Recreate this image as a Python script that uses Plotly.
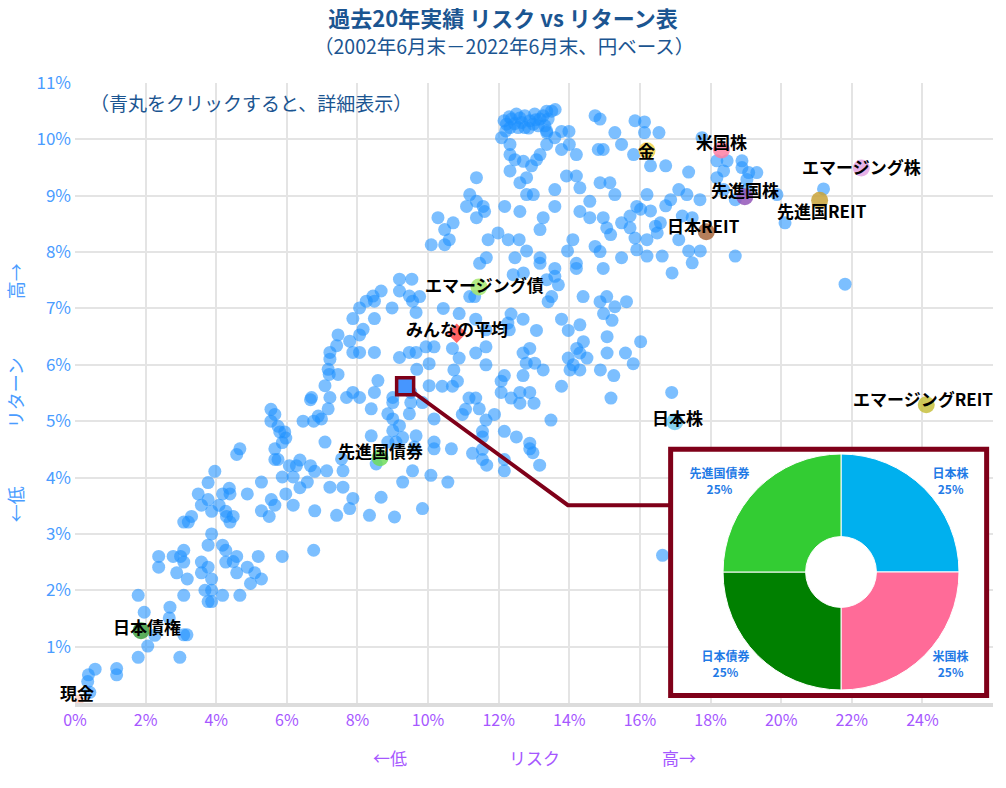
import plotly.graph_objects as go

# ---------------- data (risk %, return %) ----------------
fund_points = [
    (0.42,0.19),(0.38,0.50),(0.36,0.38),(0.57,0.60),(1.18,0.61),(1.18,0.50),(1.79,0.81),(1.79,1.91),(1.96,1.61),
    (2.06,1.01),(2.26,1.20),(2.69,1.70),(2.67,1.51),(2.97,0.81),(3.08,1.21),(3.17,1.21),(3.08,1.91),
    (2.37,2.60),(2.37,2.41),(2.78,2.60),(2.99,2.60),(3.08,2.71),(3.08,2.50),(2.88,2.31),(3.18,2.20),(3.58,2.50),
    (3.77,2.41),(3.58,2.31),(3.87,2.20),(3.68,2.00),(3.87,2.00),(3.77,1.80),(3.87,1.80),(4.18,1.91),(4.67,1.91),
    (3.87,3.00),(3.77,2.80),(4.18,2.80),(4.27,2.71),(4.27,2.50),(4.48,2.51),(4.58,2.60),(4.58,2.31),(4.88,2.41),
    (5.09,2.31),(4.97,2.12),(5.28,2.20),(5.19,2.60),(5.87,2.60),(6.76,2.71),
    (3.08,3.21),(3.21,3.21),(3.30,3.31),(3.49,3.71),(3.58,3.51),(3.77,3.61),(3.77,3.91),(3.87,3.40),(3.96,4.11),
    (4.08,3.51),(4.18,3.71),(4.27,3.40),(4.37,3.81),(4.39,3.71),(4.29,3.31),(4.48,3.31),(4.39,3.21),(4.58,4.41),
    (4.67,4.51),(4.88,3.71),(5.28,3.92),(5.28,3.41),(5.50,3.31),(5.56,3.61),(5.66,3.51),(5.87,4.01),(5.97,3.71),
    (6.18,3.51),(6.18,4.01),(6.37,3.82),(6.58,3.92),(6.79,3.41),(6.79,4.11),
    (5.66,4.51),(5.75,4.32),(5.66,4.32),(5.87,4.62),(5.97,4.70),(5.94,4.81),(5.80,4.81),(6.07,4.21),(6.27,4.21),
    (6.37,4.31),(6.67,4.21),(5.55,5.21),(5.66,5.12),(5.55,5.00),(5.75,4.91),(6.46,5.00),(6.76,5.00),(6.89,5.09),
    (6.67,5.38),
    (9.19,7.52),(9.54,7.52),(9.19,7.31),(8.67,7.31),(8.44,7.22),(8.48,7.13),(8.25,7.13),(8.06,7.01),(9.47,7.22),
    (9.56,7.13),(8.98,7.01),(9.66,6.93),
    (7.87,6.82),(8.48,6.82),(8.16,6.63),(8.06,6.53),(7.45,6.53),(7.78,6.42),(7.41,6.34),(7.22,6.22),(7.22,6.10),
    (7.87,6.22),(8.06,6.22),(8.48,6.22),(9.19,6.13),(9.47,6.22),(9.66,6.22),(9.94,6.32),(10.17,6.32),(10.03,6.02),
    (9.68,5.92),(10.03,5.63),
    (7.17,5.92),(7.20,5.83),(7.45,5.83),(7.08,5.63),(6.70,5.42),(7.22,5.42),(7.69,5.42),(7.87,5.51),(8.06,5.42),
    (8.48,5.51),(8.58,5.72),(9.00,5.42),(9.00,5.33),(9.51,5.51),(9.51,5.33),(9.84,5.33),(7.17,5.22),(6.98,5.04),
    (8.39,5.22),(8.86,5.13),(9.00,5.04),(9.47,5.13),(10.17,5.04),
    (7.13,4.12),(7.22,3.83),(7.59,3.83),(7.41,3.33),(7.78,3.45),(7.87,3.63),(7.08,4.63),(7.55,4.33),(7.59,4.12),
    (8.39,4.74),(8.53,4.24),(8.67,3.65),(8.34,3.33),(8.86,4.63),(9.09,4.63),(9.00,4.83),(9.19,4.92),(9.28,4.71),
    (9.66,4.74),(9.61,4.54),(9.56,4.12),(9.28,3.92),(10.08,4.04),(10.17,4.63),(10.17,4.51),(9.84,3.45),(9.05,3.30),
    (12.22,10.27),(12.36,10.36),(12.50,10.45),(12.65,10.30),(12.74,10.42),(12.88,10.33),(13.02,10.45),(13.17,10.36),
    (13.36,10.50),(13.50,10.50),(13.60,10.53),(13.26,10.42),(13.40,10.36),(12.32,10.21),(12.55,10.21),(12.74,10.21),
    (12.98,10.27),(13.12,10.24),(13.31,10.24),(13.36,10.15),(12.08,10.03),(12.32,9.91),(12.32,9.73),(12.46,9.64),
    (12.70,9.61),(12.93,9.53),(13.07,9.64),(13.17,9.73),(12.32,9.44),(12.60,9.23),(12.79,9.32),(12.79,9.02),
    (12.98,9.02),(12.20,10.15),(12.45,10.28),(12.60,10.38),(12.85,10.20),(13.05,10.35),(12.30,10.40),(12.15,10.33),
    (13.36,9.91),(13.36,10.12),(13.59,10.03),(13.78,10.14),(13.99,10.14),(14.00,9.91),(13.78,9.82),(14.20,9.73),
    (14.73,10.42),(14.87,10.36),(15.29,10.12),(15.48,9.91),(14.82,9.82),(14.96,9.82),(15.86,10.33),(15.82,9.73),
    (11.37,9.32),(11.18,9.02),(11.37,8.90),(11.09,8.81),(11.56,8.81),(11.60,8.72),(11.37,8.61),(10.28,8.61),
    (10.71,8.52),(10.47,8.40),(10.60,8.22),(10.47,8.13),(10.09,8.13),
    (12.17,8.81),(12.60,8.72),(11.98,8.34),(11.70,8.22),(12.27,8.22),(12.58,8.22),(12.79,8.02),(13.26,8.61),
    (13.17,8.40),(13.59,9.11),(13.59,8.81),(13.92,9.35),(14.20,9.35),(14.30,9.14),(14.58,8.90),(14.30,8.72),
    (14.10,8.22),(13.95,8.02),(14.58,8.61),(14.87,9.23),(15.15,9.23),(15.29,9.02),(14.96,8.61),(15.06,8.43),
    (15.17,8.31),(14.73,8.10),(14.87,8.01),(15.48,8.52),(15.72,8.64),(15.91,8.81),(15.72,8.43),(15.86,8.25),
    (15.91,8.04),(15.48,7.90),
    (11.65,7.90),(11.46,7.80),(12.46,7.90),(13.17,7.90),(13.17,7.80),(13.59,7.71),(13.59,7.57),(13.36,7.51),
    (13.69,7.42),(14.20,7.80),(14.20,7.71),(14.96,7.71),(14.39,7.21),(15.06,7.21),(14.87,7.12),(15.29,7.03),
    (15.62,7.12),(13.50,7.21),(13.40,7.12),(12.41,7.60),(12.70,7.63),(11.32,7.21),(11.18,7.21),(9.76,7.21),
    (10.43,7.00),
    (16.13,10.31),(16.13,10.12),(16.54,10.12),(17.76,10.03),(16.30,9.53),(16.73,9.53),(17.38,9.42),(18.18,9.62),
    (18.47,9.62),(18.89,9.62),(18.89,9.50),(18.37,9.44),(18.18,9.32),(19.08,9.41),(19.31,9.41),(19.03,9.29),
    (17.10,9.11),(17.33,9.02),(17.70,8.93),(16.87,8.93),(16.73,8.82),(16.20,9.02),(16.02,8.76),(16.30,8.73),
    (18.37,9.11),(18.70,8.93),(19.03,9.11),(19.88,9.02),(21.20,9.12),(20.11,8.52),(17.20,8.64),(17.48,8.61),
    (16.58,8.52),(16.44,8.46),(16.49,8.34),(16.20,8.22),(17.10,8.22),(17.38,8.02),(17.71,8.02),(16.20,7.93),
    (16.63,7.93),(17.48,7.81),(16.91,7.63),(18.70,7.93),(21.81,7.43),
    (14.97,6.91),(15.21,6.79),(13.78,6.81),(13.97,6.61),(14.30,6.71),(12.69,6.81),(13.07,6.61),(12.35,6.90),
    (12.26,6.74),(12.30,6.62),(10.88,6.91),(11.35,6.81),(11.64,6.62),
    (15.07,6.50),(14.40,6.41),(14.21,6.29),(14.30,6.21),(14.50,6.12),(16.02,6.41),(15.59,6.21),(15.81,6.02),
    (15.07,6.21),(15.26,5.81),(14.88,5.91),(14.30,5.91),(13.97,6.12),(14.02,5.91),(14.11,6.00),
    (12.88,6.29),(12.69,6.21),(12.78,6.03),(13.02,6.03),(13.26,5.91),(13.78,5.62),(15.18,5.41),
    (11.64,6.32),(11.35,6.21),(11.64,6.00),(10.88,6.12),(10.69,6.29),
    (12.16,5.81),(12.07,5.71),(12.07,5.51),(12.69,5.81),(12.60,5.51),(12.88,5.51),(12.35,5.41),(12.60,5.32),
    (13.00,5.32),(10.73,5.91),(10.69,5.62),(10.83,5.71),(10.40,5.62),
    (11.16,5.41),(11.35,5.41),(11.06,5.21),(11.45,5.22),(10.97,5.12),(11.64,5.02),(11.88,5.12),(13.48,5.02),
    (12.16,4.82),(12.50,4.72),(12.88,4.61),(12.97,4.44),(13.16,4.22),(12.88,4.51),
    (11.54,4.82),(11.54,4.72),(11.54,4.50),(11.54,4.32),(11.66,4.22),(11.26,4.43),
    (12.16,4.32),(12.16,4.12),(10.66,4.51),(10.56,3.92),(16.90,5.51),(16.64,2.62),
]

asset_names  = ["現金", "日本債権", "先進国債券", "エマージング債", "金", "米国株", "先進国株",
                "日本REIT", "先進国REIT", "エマージング株", "エマージングREIT", "日本株"]
asset_risk   = [0.0, 1.87, 8.64, 11.44, 16.20, 18.31, 18.97, 17.88, 21.09, 22.27, 24.11, 16.99]
asset_return = [0.0, 1.28, 4.35, 7.38, 9.80, 9.81, 8.98, 8.36, 8.92, 9.49, 5.29, 4.99]

avg_name, avg_risk, avg_return = "みんなの平均", 10.81, 6.56
selected_risk, selected_return = 9.35, 5.62

pie_labels = ["日本株", "米国株", "日本債券", "先進国債券"]
pie_values = [25, 25, 25, 25]

x_tickvals = list(range(0, 27, 2))
x_ticktext = [f"{v}%" for v in range(0, 25, 2)] + [""]
y_tickvals = list(range(0, 12))
y_ticktext = [""] + [f"{v}%" for v in range(1, 12)]

# ---------------- styles ----------------
FONT = "Noto Sans CJK JP"
TITLE_BLUE = "#1b5591"
MAROON = "#7f0019"
asset_colors = ["rgba(255,190,170,0.7)", "#3f9f3f", "#6fdc5c", "#a6e86e", "#f2d24a", "#ff7fa3",
                "#9356b8", "#a8693e", "#c9a33a", "#e3a3e3", "#c7bf3d", "#6fcaf0"]
label_shift = {  # (xshift, yshift) in px
    "現金": (2, 11), "日本債権": (6, 4), "先進国債券": (0, 7), "エマージング債": (6, 3),
    "金": (0, 0), "米国株": (0, 9), "先進国株": (0, 7), "日本REIT": (-3, 6),
    "先進国REIT": (2, -10), "エマージング株": (0, 2), "エマージングREIT": (-3, 6), "日本株": (3, 4),
}
pie_colors = ["#00b0ee", "#ff6b98", "#008000", "#33cc33"]

fig = go.Figure()

fig.add_trace(go.Scatter(
    x=[p[0] for p in fund_points], y=[p[1] for p in fund_points],
    mode="markers", marker=dict(size=13, color="rgba(30,144,255,0.58)", line=dict(width=0)),
    hoverinfo="x+y", showlegend=False,
))

fig.add_trace(go.Scatter(
    x=asset_risk, y=asset_return, mode="markers",
    marker=dict(size=17, color=asset_colors, opacity=0.85, line=dict(width=0)),
    text=asset_names, hoverinfo="text", showlegend=False,
))
fig.add_trace(go.Scatter(
    x=[avg_risk], y=[avg_return], mode="markers",
    marker=dict(size=15, color="#ff5252", symbol="diamond", opacity=0.9),
    text=[avg_name], hoverinfo="text", showlegend=False,
))

# connector line from the selected point to the inset
fig.add_trace(go.Scatter(
    x=[selected_risk, 13.96, 16.87], y=[selected_return, 3.51, 3.51], mode="lines",
    line=dict(color=MAROON, width=4), hoverinfo="skip", showlegend=False,
))
fig.add_trace(go.Scatter(
    x=[selected_risk], y=[selected_return], mode="markers",
    marker=dict(size=17, symbol="square", color="rgba(70,150,255,1)", line=dict(color=MAROON, width=3.5)),
    hoverinfo="skip", showlegend=False,
))

for n, xv, yv in zip(asset_names + [avg_name], asset_risk + [avg_risk], asset_return + [avg_return]):
    sx, sy = label_shift.get(n, (0, 5))
    fig.add_annotation(x=xv, y=yv, text=n, showarrow=False, xshift=sx, yshift=sy,
                       font=dict(family=FONT, size=17, color="black", weight="bold"))

# inset pie
fig.add_trace(go.Pie(
    labels=pie_labels, values=pie_values, hole=0.3, sort=False, direction="clockwise", rotation=0,
    marker=dict(colors=pie_colors, line=dict(color="white", width=1)),
    textinfo="label+percent", textposition="outside",
    textfont=dict(family=FONT, size=12, color="#1f7ae6", weight="bold"),
    domain=dict(x=[0.7059, 0.963], y=[0.021, 0.4016]),
    showlegend=False, automargin=False,
))

fig.add_shape(type="rect", xref="x", yref="y", x0=16.87, x1=25.82, y0=0.133, y1=4.50,
              fillcolor="white", line=dict(width=0), layer="between")
fig.add_shape(type="rect", xref="x", yref="y", x0=16.87, x1=25.82, y0=0.133, y1=4.50,
              fillcolor="rgba(0,0,0,0)", line=dict(color=MAROON, width=5), layer="above")

fig.add_annotation(xref="paper", yref="paper", x=0.014, y=0.969, xanchor="left", yanchor="middle",
                   text="（青丸をクリックすると、詳細表示）", showarrow=False,
                   font=dict(family=FONT, size=19, color=TITLE_BLUE))
fig.add_annotation(xref="paper", yref="paper", x=0.467, y=1.061, xanchor="center", yanchor="middle",
                   text="（2002年6月末－2022年6月末、円ベース）", showarrow=False,
                   font=dict(family=FONT, size=19.5, color=TITLE_BLUE))
fig.add_annotation(xref="paper", yref="paper", x=0.5, y=-0.0887, xanchor="center", yanchor="middle",
                   text="←低　　　　　　リスク　　　　　　高→", showarrow=False,
                   font=dict(family=FONT, size=17, color="#a657ff"))
fig.add_annotation(xref="paper", yref="paper", x=-0.065, y=0.5, xanchor="center", yanchor="middle",
                   text="←低　　　 リターン　　　 高→", textangle=-90, showarrow=False,
                   font=dict(family=FONT, size=18, color="#4a9cff"))

fig.update_layout(
    width=1006, height=788,
    margin=dict(l=75, r=13, t=83, b=85),
    paper_bgcolor="white", plot_bgcolor="white",
    font=dict(family=FONT),
    title=dict(text="<b>過去20年実績 リスク vs リターン表</b>", x=0.5, xref="container", xanchor="center",
               y=1 - 19 / 788, yanchor="middle", font=dict(family=FONT, size=22, color=TITLE_BLUE)),
    xaxis=dict(range=[0, 26], tickvals=x_tickvals, ticktext=x_ticktext, showgrid=True,
               gridcolor="#e4e4e4", gridwidth=1.5, zeroline=False, showline=True, linecolor="#dcdcdc",
               linewidth=4, tickfont=dict(family=FONT, size=16, color="#a657ff"), fixedrange=True),
    yaxis=dict(range=[0, 11], tickvals=y_tickvals, ticktext=y_ticktext, showgrid=True,
               gridcolor="#e4e4e4", gridwidth=1.5, zeroline=False, showline=False, ticklabelstandoff=3,
               tickfont=dict(family=FONT, size=17, color="#4a9cff"), fixedrange=True),
    hovermode="closest",
)

fig.write_html("out.html", config={"displayModeBar": False},
               post_script="document.body.style.margin='0';document.body.style.padding='0';")
